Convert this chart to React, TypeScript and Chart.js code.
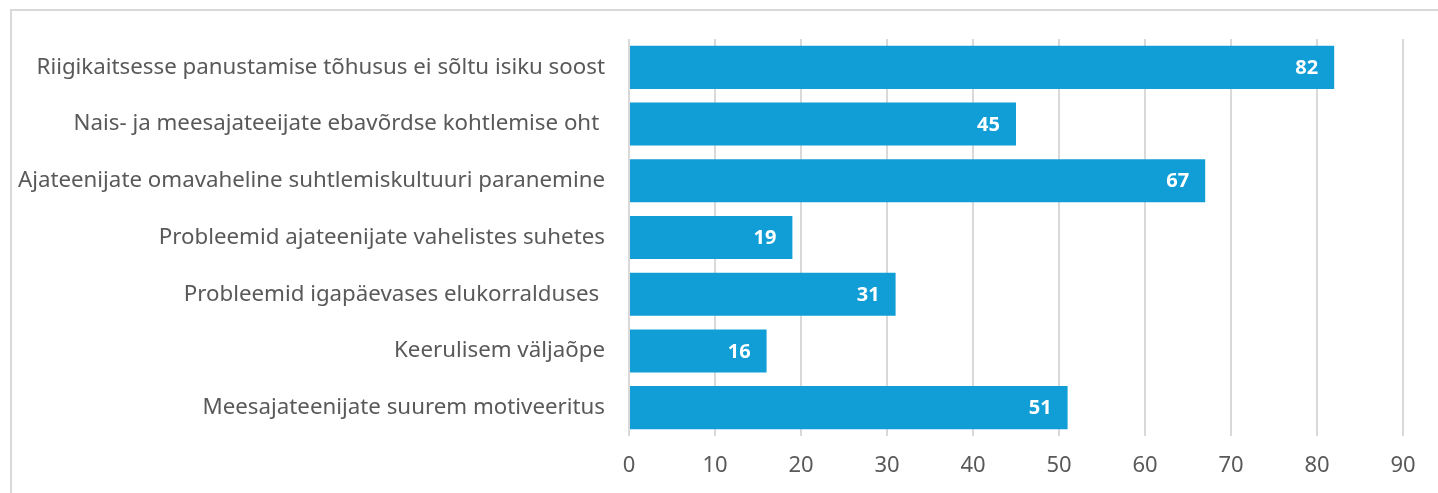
import React, { useEffect, useRef } from "react";
import { Chart, registerables } from "chart.js";

Chart.register(...registerables);

const categories = [
  "Riigikaitsesse panustamise tõhusus ei sõltu isiku soost",
  "Nais- ja meesajateeijate ebavõrdse kohtlemise oht ",
  "Ajateenijate omavaheline suhtlemiskultuuri paranemine",
  "Probleemid ajateenijate vahelistes suhetes",
  "Probleemid igapäevases elukorralduses ",
  "Keerulisem väljaõpe",
  "Meesajateenijate suurem motiveeritus",
];
const values = [82, 45, 67, 19, 31, 16, 51];
const xTicks = [0, 10, 20, 30, 40, 50, 60, 70, 80, 90];

const FONT = "'Noto Sans', sans-serif";

const valueLabels = {
  id: "valueLabels",
  afterDatasetsDraw(chart: any) {
    const ctx = chart.ctx;
    const meta = chart.getDatasetMeta(0);
    ctx.save();
    ctx.fillStyle = "#ffffff";
    ctx.font = `bold 20px ${FONT}`;
    ctx.textAlign = "right";
    ctx.textBaseline = "middle";
    meta.data.forEach((bar: any, i: number) => {
      ctx.fillText(String(values[i]), bar.x - 16, bar.y + 1);
    });
    ctx.restore();
  },
};

export default function App() {
  const ref = useRef<HTMLCanvasElement | null>(null);
  useEffect(() => {
    if (!ref.current) return;
    const chart = new Chart(ref.current, {
      type: "bar",
      data: {
        labels: categories,
        datasets: [
          {
            data: values,
            backgroundColor: "#119ED6",
            borderWidth: 0,
            categoryPercentage: 1,
            barPercentage: 0.76,
          },
        ],
      },
      options: {
        indexAxis: "y",
        animation: false,
        responsive: false,
        maintainAspectRatio: false,
        layout: { padding: { top: 39, right: 35, left: 0, bottom: 0 } },
        plugins: { legend: { display: false }, tooltip: { enabled: false } },
        scales: {
          x: {
            min: 0,
            max: 90,
            afterBuildTicks: (s: any) => {
              s.ticks = xTicks.map((v) => ({ value: v }));
            },
            afterFit: (s: any) => {
              s.height = 57;
            },
            grid: { color: "#d9d9d9", lineWidth: 2, drawTicks: false },
            border: { display: false },
            ticks: {
              color: "#595959",
              font: { family: FONT, size: 22 },
              padding: 17,
            },
          },
          y: {
            afterFit: (s: any) => {
              s.width = 629;
            },
            grid: { display: false, drawTicks: false },
            border: { display: false },
            ticks: {
              color: "#595959",
              font: { family: FONT, size: 22.3 },
              padding: 24,
              autoSkip: false,
            },
          },
        },
      },
      plugins: [valueLabels],
    });
    return () => chart.destroy();
  }, []);
  return (
    <div style={{ position: "fixed", left: 0, top: 0, width: 1438, height: 493, background: "#fff" }}>
      <div
        style={{
          position: "absolute",
          left: 10,
          top: 9,
          width: 1500,
          height: 600,
          border: "2px solid #d9d9d9",
          boxSizing: "border-box",
        }}
      />
      <canvas ref={ref} width={1438} height={493} style={{ position: "absolute", left: 0, top: 0, width: 1438, height: 493 }} />
    </div>
  );
}
